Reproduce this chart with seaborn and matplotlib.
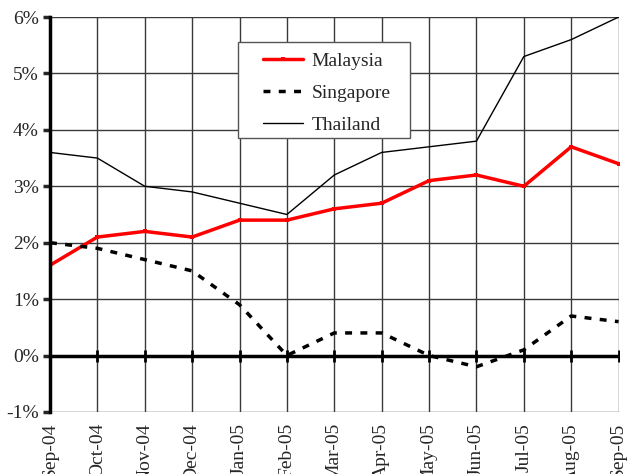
import pandas as pd
import numpy as np
import matplotlib
matplotlib.use("Agg")
import matplotlib.pyplot as plt
import seaborn as sns
from matplotlib.ticker import FuncFormatter
from matplotlib.patches import Rectangle

# data (percent)
months = ["Sep-04", "Oct-04", "Nov-04", "Dec-04", "Jan-05", "Feb-05", "Mar-05",
          "Apr-05", "May-05", "Jun-05", "Jul-05", "Aug-05", "Sep-05"]
malaysia = [1.6, 2.1, 2.2, 2.1, 2.4, 2.4, 2.6, 2.7, 3.1, 3.2, 3.0, 3.7, 3.4]
singapore = [2.0, 1.9, 1.7, 1.5, 0.9, 0.0, 0.4, 0.4, 0.0, -0.2, 0.1, 0.7, 0.6]
thailand = [3.6, 3.5, 3.0, 2.9, 2.7, 2.5, 3.2, 3.6, 3.7, 3.8, 5.3, 5.6, 6.0]
y_ticks = [-1, 0, 1, 2, 3, 4, 5, 6]

sns.set_style("white")
plt.rcParams['font.family'] = ['Liberation Serif', 'DejaVu Serif']

df = pd.DataFrame({"x": range(len(months)), "Malaysia": malaysia,
                   "Singapore": singapore, "Thailand": thailand})

fig = plt.figure(figsize=(6.36, 4.74), dpi=100)
ax = fig.add_axes([0.0786, 0.131, 0.894, 0.833])

ax.grid(True, color="#3a3a3a", linewidth=1)
ax.set_axisbelow(True)

sns.lineplot(data=df, x="x", y="Malaysia", ax=ax, color="red", linewidth=2.5,
             marker="s", markersize=3, markeredgewidth=0, label="Malaysia")
sns.lineplot(data=df, x="x", y="Singapore", ax=ax, color="black", linewidth=2.5,
             label="Singapore", dashes=False)
ax.lines[-1].set_dashes([2, 2.4])
sns.lineplot(data=df, x="x", y="Thailand", ax=ax, color="black", linewidth=1,
             label="Thailand")

# zero line with tick marks
ax.axhline(0, color="black", linewidth=2.5, zorder=1.5)
ax.plot(df["x"], [0] * len(months), linestyle="none", marker="|",
        markersize=8, markeredgewidth=2, color="black", zorder=1.6)

ax.set_xlim(0, len(months) - 1)
ax.set_ylim(y_ticks[0], y_ticks[-1])
ax.set_xticks(df["x"])
ax.set_xticklabels(months, rotation=90, fontsize=14)
ax.set_yticks(y_ticks)
ax.yaxis.set_major_formatter(FuncFormatter(lambda v, p: f"{v:.0f}%"))
ax.tick_params(axis="y", labelsize=14, length=5, width=2.5, direction="out", left=True, pad=3)
ax.tick_params(axis="x", length=0, pad=8)
ax.set_xlabel("")
ax.set_ylabel("")

for s in ["top", "right", "bottom"]:
    ax.spines[s].set_visible(False)
ax.spines["left"].set_linewidth(2.5)
ax.spines["left"].set_color("black")

# legend box drawn separately so it can be wider than the entries
box = Rectangle((0.330, 0.694), 0.303, 0.243, transform=ax.transAxes,
                facecolor="white", edgecolor="#555555", linewidth=1, zorder=4)
ax.add_patch(box)
leg = ax.legend(loc="upper left", bbox_to_anchor=(0.374, 0.91), fontsize=14,
                frameon=False, handlelength=2.1, borderpad=0,
                handletextpad=0.4, labelspacing=0.73, borderaxespad=0)
leg.set_zorder(5)

fig.savefig("out.png", dpi=100)
